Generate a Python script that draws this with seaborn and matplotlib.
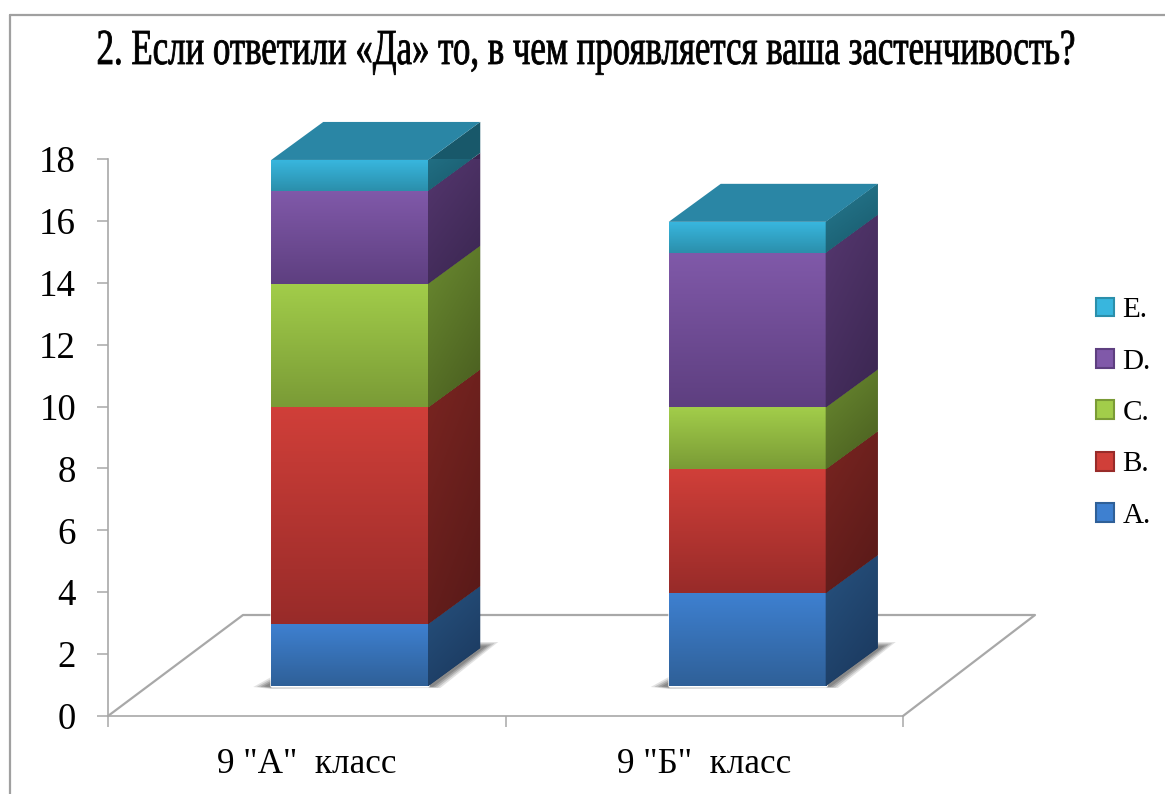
import numpy as np
import matplotlib
matplotlib.use("Agg")
import matplotlib.pyplot as plt
import seaborn as sns
from matplotlib.patches import Patch, Polygon
from matplotlib.lines import Line2D
from matplotlib.transforms import Affine2D, IdentityTransform
from matplotlib.patheffects import AbstractPathEffect
from matplotlib.colors import to_rgb

title = "2. Если ответили «Да» то, в чем проявляется ваша застенчивость?"
classes = ['9 "А"  класс', '9 "Б"  класс']
series = ["A.", "B.", "C.", "D.", "E."]
val_a = [2, 7, 4, 3, 1]
val_b = [3, 4, 2, 5, 1]
yticks = list(range(0, 20, 2))

front_top = ["#3E80D0", "#D03F39", "#A2CD4A", "#8059A9", "#38B6DE"]
front_bot = ["#2F6098", "#982B29", "#7A9B36", "#5E3F80", "#2B8FAB"]
side_top = ["#27527F", "#7A2521", "#6A8A30", "#55376F", "#267A90"]
side_bot = ["#1A375C", "#571918", "#485C1F", "#3A2650", "#18586A"]
top_face = "#2A86A5"
grid_c = "#A8A8A8"

W, H = 1165, 794
sns.set_theme(style="white")
plt.rcParams["font.family"] = ["Liberation Serif", "DejaVu Serif"]
fig = plt.figure(figsize=(W / 100, H / 100), dpi=100, facecolor="white")
ax = fig.add_axes([108 / W, 1 - 716 / H, 795 / W, 557 / H])
ax.patch.set_alpha(0)

OFF = (43, 30)    # pixel shift of the front plane from the axis plane
DEPTH = (52, 38)  # pixel depth of each bar
trans = ax.transData + Affine2D().translate(*OFF)

vals = np.array([val_a, val_b], dtype=float)
cum = np.cumsum(vals, axis=1)
bar_w = 0.395

boxes = [None, None]
for k in range(len(series) - 1, -1, -1):
    n0 = len(ax.patches)
    sns.barplot(x=classes, y=cum[:, k], color=front_bot[k], saturation=1, width=bar_w,
                errorbar=None, ax=ax, zorder=3)
    for i, p in enumerate(ax.patches[n0:]):
        p.set_transform(trans)
        p.set_clip_on(False)
        boxes[i] = (p.get_x(), p.get_x() + p.get_width())

ax.set_autoscale_on(False)
ax.set_xlim(-0.5, 1.5)
ax.set_ylim(0, 18)


def vgrad(c0, c1, n=64):
    c0, c1 = np.array(to_rgb(c0)), np.array(to_rgb(c1))
    t = np.linspace(0, 1, n)[:, None, None]
    return c0 * (1 - t) + c1 * t


def dgrad(c0, c1, n=64):
    c0, c1 = np.array(to_rgb(c0)), np.array(to_rgb(c1))
    u, v = np.meshgrid(np.linspace(0, 1, n), np.linspace(0, 1, n))
    t = (0.65 * v + 0.35 * u)[:, :, None]
    return c0 * (1 - t) + c1 * t


def to_px(x, y):
    return trans.transform((x, y))


for i, (x0, x1) in enumerate(boxes):
    # floor shadow
    L, R = to_px(x0, 0), to_px(x1, 0)
    d = np.array(DEPTH)
    B = R + d
    for g, a in [(1.0, 0.16), (0.8, 0.22), (0.6, 0.28), (0.4, 0.3)]:
        pts = [L + (-18 * g, -1 * g), L + (0, 9 * g), B + (0, 6 * g), B + (18 * g, 6 * g),
               R + (12 * g, -2 * g), L + (0, -3 * g)]
        ax.add_patch(Polygon(pts, closed=True, transform=IdentityTransform(), fc="#505050",
                             ec="none", alpha=a, zorder=2, clip_on=False))
    bottom = 0.0
    for k in range(len(series)):
        top = cum[i, k]
        im = ax.imshow(vgrad(front_top[k], front_bot[k]), extent=(x0, x1, bottom, top),
                       origin="upper", aspect="auto", interpolation="bilinear", zorder=4)
        im.set_transform(trans)
        im.set_clip_on(False)
        a, b = to_px(x1, bottom), to_px(x1, top)
        poly = Polygon([a, b, b + d, a + d], closed=True, transform=IdentityTransform(),
                       fc=side_bot[k], ec="none", zorder=4, clip_on=False)
        ax.add_patch(poly)
        si = ax.imshow(dgrad(side_top[k], side_bot[k]),
                       extent=(a[0], a[0] + d[0], a[1], b[1] + d[1]), origin="upper",
                       aspect="auto", interpolation="bilinear", zorder=4.5)
        si.set_transform(IdentityTransform())
        si.set_clip_path(poly)
        bottom = top
    fl, fr = to_px(x0, bottom), to_px(x1, bottom)
    ax.add_patch(Polygon([fl, fr, fr + d, fl + d], closed=True, transform=IdentityTransform(),
                         fc=top_face, ec="none", zorder=5, clip_on=False))

# floor outline, behind the bars
p0 = ax.transData.transform((-0.5, 0))
p1 = ax.transData.transform((1.5, 0))
back = [p0, p0 + (135, 101), p1 + (132, 101), p1]
ax.add_line(Line2D([q[0] for q in back], [q[1] for q in back], color=grid_c, lw=1.6,
                   transform=IdentityTransform(), zorder=1, clip_on=False))

# axes styling
for s in ("top", "right"):
    ax.spines[s].set_visible(False)
for s in ("left", "bottom"):
    ax.spines[s].set_color(grid_c)
    ax.spines[s].set_linewidth(1.2)
    ax.spines[s].set_zorder(1)
ax.set_yticks(yticks)
ax.tick_params(axis="y", which="major", left=True, length=8, width=1.1, color=grid_c, pad=15,
               labelsize=26.5, labelcolor="black")
ax.set_xticks([-0.5, 0.5, 1.5], labels=["", "", ""])
ax.set_xticks([0, 1], labels=classes, minor=True)
ax.tick_params(axis="x", which="major", bottom=True, length=8, width=1.1, color=grid_c)
ax.tick_params(axis="x", which="minor", bottom=False, length=0, pad=23, labelsize=25.3,
               labelcolor="black")
ax.set_xlabel("")
ax.set_ylabel("")

# legend
handles = [Patch(fc=front_top[k], ec=front_bot[k], lw=1.5) for k in range(len(series) - 1, -1, -1)]
labels = series[::-1]
leg = ax.legend(handles, labels, loc="center left", bbox_to_anchor=(1096 / W, 1 - 413 / H),
                bbox_transform=fig.transFigure, frameon=False, fontsize=21,
                handlelength=0.62, handleheight=0.62, handletextpad=0.28, labelspacing=0.87,
                borderpad=0, borderaxespad=0)
for t in leg.get_texts():
    t.set_color("black")


class Reshape(AbstractPathEffect):
    """Narrow and heighten the title's glyphs about its anchor, as in the reference."""

    def __init__(self, sx, sy, cx, cy):
        super().__init__()
        self.sx, self.sy, self.cx, self.cy = sx, sy, cx, cy

    def draw_path(self, renderer, gc, tpath, affine, rgbFace=None):
        aff = affine + (Affine2D().translate(-self.cx, -self.cy)
                        .scale(self.sx, self.sy).translate(self.cx, self.cy))
        gc0 = renderer.new_gc()
        gc0.copy_properties(gc)
        gc0.set_linewidth(0.6)
        gc0.set_foreground("black")
        renderer.draw_path(gc0, tpath, aff, rgbFace)
        gc0.restore()


fig.text(586 / W, 1 - 64 / H, title, ha="center", va="baseline", fontsize=29, color="black",
         path_effects=[Reshape(0.865, 1.25, 586, H - 64)])

# outer frame
fig.add_artist(Line2D([10 / W, 1], [1 - 15 / H, 1 - 15 / H], color="#A0A0A0", lw=1.6))
fig.add_artist(Line2D([10 / W, 10 / W], [1 - 15 / H, 0], color="#A0A0A0", lw=1.6))

fig.savefig("out.png", dpi=100)
